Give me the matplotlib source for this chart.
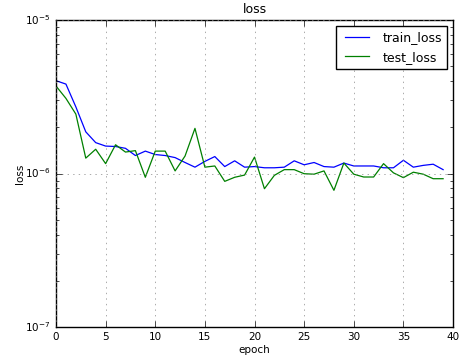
import matplotlib
matplotlib.use("Agg")
import matplotlib.pyplot as plt

# Valores (escala log)
epochs = list(range(40))
train_loss = [4.03e-6, 3.83e-6, 2.72e-6, 1.87e-6, 1.59e-6, 1.51e-6, 1.50e-6, 1.46e-6, 1.31e-6, 1.40e-6,
              1.33e-6, 1.31e-6, 1.27e-6, 1.18e-6, 1.10e-6, 1.20e-6, 1.29e-6, 1.11e-6, 1.21e-6, 1.10e-6,
              1.11e-6, 1.09e-6, 1.09e-6, 1.10e-6, 1.21e-6, 1.14e-6, 1.18e-6, 1.11e-6, 1.10e-6, 1.17e-6,
              1.12e-6, 1.12e-6, 1.12e-6, 1.09e-6, 1.09e-6, 1.22e-6, 1.10e-6, 1.13e-6, 1.15e-6, 1.06e-6]
test_loss = [3.72e-6, 3.09e-6, 2.44e-6, 1.26e-6, 1.44e-6, 1.16e-6, 1.54e-6, 1.38e-6, 1.41e-6, 9.45e-7,
             1.40e-6, 1.40e-6, 1.04e-6, 1.30e-6, 1.97e-6, 1.10e-6, 1.12e-6, 8.89e-7, 9.45e-7, 9.77e-7,
             1.28e-6, 7.96e-7, 9.73e-7, 1.06e-6, 1.06e-6, 9.97e-7, 9.90e-7, 1.04e-6, 7.77e-7, 1.17e-6,
             9.90e-7, 9.49e-7, 9.49e-7, 1.16e-6, 1.01e-6, 9.40e-7, 1.02e-6, 9.90e-7, 9.25e-7, 9.25e-7]

plt.style.use("classic")
plt.rcParams["font.size"] = 7.5
plt.rcParams["grid.color"] = "#888888"

fig = plt.figure(figsize=(4.59, 3.6), dpi=100)
ax = fig.add_axes([0.122, 0.092, 0.865, 0.852])
ax.plot(epochs, train_loss, color="b", linewidth=0.9, label="train_loss")
ax.plot(epochs, test_loss, color="g", linewidth=0.9, label="test_loss")
ax.set_yscale("log")
ax.set_ylim(1e-7, 1e-5)
ax.set_xlim(0, 40)
ax.set_title("loss", fontsize=9)
ax.set_xlabel("epoch", labelpad=2)
ax.set_ylabel("loss", labelpad=0)
ax.grid(True)
ax.legend(loc="upper right", fontsize=9, handlelength=2.5)

fig.savefig("out.png", dpi=100)
